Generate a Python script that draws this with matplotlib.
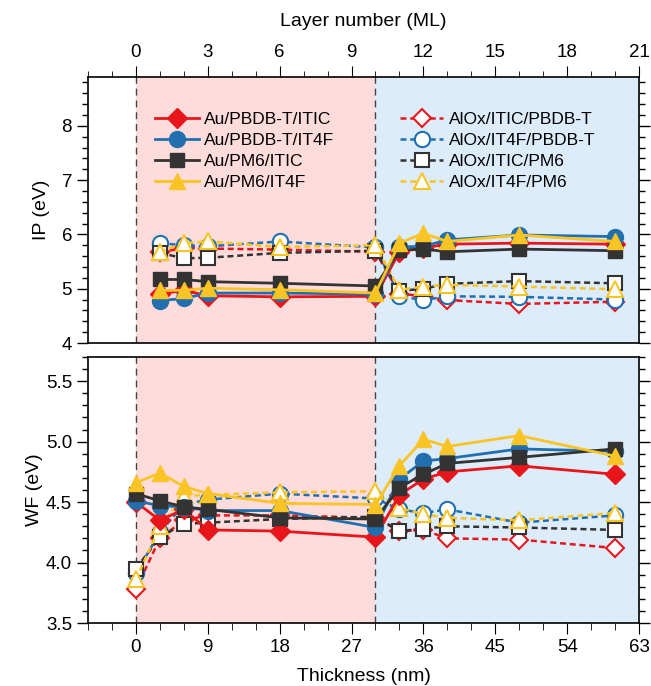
import matplotlib
matplotlib.use("Agg")
import matplotlib.pyplot as plt
from matplotlib.ticker import MultipleLocator, FuncFormatter

plt.rcParams['font.family'] = ['Liberation Sans', 'DejaVu Sans']

# ---------------- data ----------------
# thickness (nm); 1 ML = 3 nm
x_ip = [3, 6, 9, 18, 30, 33, 36, 39, 48, 60]
x_wf = [0, 3, 6, 9, 18, 30, 33, 36, 39, 48, 60]

# IP (eV), top panel
ip_au_pbdbt_itic = [4.90, 4.97, 4.87, 4.85, 4.86, 5.68, 5.75, 5.82, 5.84, 5.82]
ip_au_pbdbt_it4f = [4.78, 4.82, 4.92, 4.92, 4.90, 5.77, 5.78, 5.90, 5.99, 5.96]
ip_au_pm6_itic   = [5.17, 5.17, 5.13, 5.10, 5.05, 5.71, 5.73, 5.68, 5.73, 5.70]
ip_au_pm6_it4f   = [4.97, 4.97, 5.01, 4.98, 4.92, 5.84, 6.02, 5.87, 5.99, 5.87]
ip_alox_itic_pbdbt = [5.67, 5.75, 5.74, 5.72, 5.68, 4.91, 4.86, 4.79, 4.72, 4.76]
ip_alox_it4f_pbdbt = [5.84, 5.80, 5.78, 5.87, 5.76, 4.86, 4.79, 4.86, 4.85, 4.80]
ip_alox_itic_pm6   = [5.66, 5.56, 5.57, 5.66, 5.70, 4.96, 5.00, 5.09, 5.14, 5.10]
ip_alox_it4f_pm6   = [5.68, 5.84, 5.87, 5.77, 5.80, 4.98, 5.04, 5.07, 5.04, 4.99]

# WF (eV), bottom panel
wf_au_pbdbt_itic = [4.50, 4.35, 4.44, 4.27, 4.26, 4.21, 4.56, 4.69, 4.75, 4.80, 4.73]
wf_au_pbdbt_it4f = [4.51, 4.47, 4.46, 4.43, 4.43, 4.29, 4.69, 4.84, 4.86, 4.94, 4.92]
wf_au_pm6_itic   = [4.57, 4.51, 4.46, 4.44, 4.37, 4.36, 4.62, 4.73, 4.82, 4.87, 4.94]
wf_au_pm6_it4f   = [4.66, 4.74, 4.63, 4.57, 4.49, 4.48, 4.80, 5.02, 4.96, 5.05, 4.88]
wf_alox_itic_pbdbt = [3.78, 4.20, 4.35, 4.39, 4.39, 4.37, 4.26, 4.27, 4.20, 4.19, 4.12]
wf_alox_it4f_pbdbt = [3.91, 4.25, 4.48, 4.52, 4.57, 4.53, 4.44, 4.41, 4.44, 4.33, 4.39]
wf_alox_itic_pm6   = [3.95, 4.21, 4.32, 4.33, 4.36, 4.38, 4.26, 4.28, 4.30, 4.29, 4.27]
wf_alox_it4f_pm6   = [3.86, 4.30, 4.55, 4.56, 4.58, 4.59, 4.45, 4.40, 4.37, 4.35, 4.41]

labels_au = ['Au/PBDB-T/ITIC', 'Au/PBDB-T/IT4F', 'Au/PM6/ITIC', 'Au/PM6/IT4F']
labels_alox = ['AlOx/ITIC/PBDB-T', 'AlOx/IT4F/PBDB-T', 'AlOx/ITIC/PM6', 'AlOx/IT4F/PM6']

thickness_ticks = [0, 9, 18, 27, 36, 45, 54, 63]
layer_tick_labels = ['0', '3', '6', '9', '12', '15', '18', '21']

# ---------------- style ----------------
colors = ['#e8161b', '#226fb0', '#333333', '#f9c424']
markers = ['D', 'o', 's', '^']
msizes = [10, 11.5, 10, 12]
pink = '#fddcdb'
lblue = '#dcecfb'

fig = plt.figure(figsize=(6.51, 6.86), dpi=100)
ax1 = fig.add_axes([0.1352, 0.5, 0.8464, 0.3878])
ax2 = fig.add_axes([0.1352, 0.0918, 0.8464, 0.3878])

au_ip = [ip_au_pbdbt_itic, ip_au_pbdbt_it4f, ip_au_pm6_itic, ip_au_pm6_it4f]
al_ip = [ip_alox_itic_pbdbt, ip_alox_it4f_pbdbt, ip_alox_itic_pm6, ip_alox_it4f_pm6]
au_wf = [wf_au_pbdbt_itic, wf_au_pbdbt_it4f, wf_au_pm6_itic, wf_au_pm6_it4f]
al_wf = [wf_alox_itic_pbdbt, wf_alox_it4f_pbdbt, wf_alox_itic_pm6, wf_alox_it4f_pm6]

dash = (0, (2.4, 1.5))

for ax in (ax1, ax2):
    ax.axvspan(0, 30, color=pink, lw=0, zorder=0)
    ax.axvspan(30, 63, color=lblue, lw=0, zorder=0)
    for xv in (0, 30):
        ax.axvline(xv, color='#444444', lw=1.0, ls=(0, (5, 3.5)), zorder=1)
    ax.set_xlim(-6, 63)

def draw(ax, x, au, al):
    h_au, h_al = [], []
    for i in range(4):
        l, = ax.plot(x, al[i], ls=dash, color=colors[i], lw=1.8, marker=markers[i],
                     ms=msizes[i] - 0.5, mfc='white', mec=colors[i], mew=1.5,
                     label=labels_alox[i], zorder=3)
        h_al.append(l)
    for i in range(4):
        l, = ax.plot(x, au[i], ls='-', color=colors[i], lw=2.0, marker=markers[i],
                     ms=msizes[i], mfc=colors[i], mec=colors[i], mew=1.0,
                     label=labels_au[i], zorder=4)
        h_au.append(l)
    return h_au, h_al

h_au, h_al = draw(ax1, x_ip, au_ip, al_ip)
draw(ax2, x_wf, au_wf, al_wf)

leg_kw = dict(frameon=False, fontsize=12.5, handlelength=2.5, handletextpad=0.3,
              labelspacing=0.33, borderpad=0, borderaxespad=0, loc='upper left')
leg1 = ax1.legend(handles=h_au, bbox_to_anchor=(0.122, 0.868), **leg_kw)
ax1.add_artist(leg1)
ax1.legend(handles=h_al, bbox_to_anchor=(0.566, 0.868), **leg_kw)

# axes ranges & ticks
ax1.set_ylim(4, 8.9)
ax1.yaxis.set_major_locator(MultipleLocator(1))
ax1.yaxis.set_minor_locator(MultipleLocator(0.2))
ax2.set_ylim(3.5, 5.7)
ax2.yaxis.set_major_locator(MultipleLocator(0.5))
ax2.yaxis.set_minor_locator(MultipleLocator(0.1))
ax2.yaxis.set_major_formatter(FuncFormatter(lambda v, p: f'{v:.1f}'))

for ax in (ax1, ax2):
    ax.set_xticks(thickness_ticks)
    ax.xaxis.set_minor_locator(MultipleLocator(3))
    ax.tick_params(axis='y', which='both', direction='out', left=True, right=True,
                   labelleft=True, labelright=False, labelsize=13.5)
    ax.tick_params(axis='y', which='major', length=8, width=1.0)
    ax.tick_params(axis='y', which='minor', length=4, width=1.0)
    for s in ax.spines.values():
        s.set_linewidth(1.2)
        s.set_zorder(5)

ax1.xaxis.tick_top()
ax1.xaxis.set_label_position('top')
ax1.set_xticklabels(layer_tick_labels)
ax1.tick_params(axis='x', which='both', direction='out', top=True, bottom=False,
                labeltop=True, labelbottom=False, labelsize=13.5)
ax1.tick_params(axis='x', which='major', length=8)
ax1.tick_params(axis='x', which='minor', length=4)
ax1.set_xlabel('Layer number (ML)', fontsize=14, labelpad=13)

ax2.set_xticklabels([str(t) for t in thickness_ticks])
ax2.tick_params(axis='x', which='both', direction='out', top=False, bottom=True,
                labelsize=13.5)
ax2.tick_params(axis='x', which='major', length=8)
ax2.tick_params(axis='x', which='minor', length=5)
ax2.set_xlabel('Thickness (nm)', fontsize=14, labelpad=9)

ax1.set_ylabel('IP (eV)', fontsize=14, labelpad=8)
ax2.set_ylabel('WF (eV)', fontsize=14, labelpad=2)
fig.align_ylabels([ax1, ax2])

fig.savefig('out.png', dpi=100)
